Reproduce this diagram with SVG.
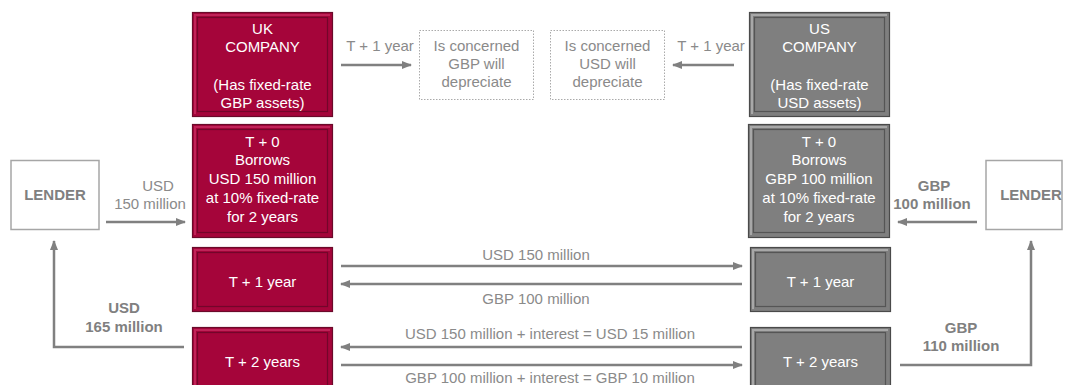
<svg xmlns="http://www.w3.org/2000/svg" width="1068" height="385" viewBox="0 0 1068 385">
<defs>
<style>
text{font-family:"Liberation Sans",Arial,sans-serif;font-size:15px;text-anchor:middle;dominant-baseline:central}
.w{fill:#ffffff}
.g{fill:#8a8a8a}
.gb{fill:#808080;font-weight:bold}
.uk-o{fill:#a5053a;stroke:#6a0a2a;stroke-width:1.2}
.uk-hl{fill:none;stroke:#c02358;stroke-width:2}
.uk-f{fill:#a5053a;stroke:#73062a;stroke-width:1.2}
.us-o{fill:#7f7f7f;stroke:#4a4a4a;stroke-width:1.2}
.us-hl{fill:none;stroke:#a8a8a8;stroke-width:2}
.us-f{fill:#7f7f7f;stroke:#555555;stroke-width:1.2}
.ln{stroke:#808080;stroke-width:2.5;fill:none}
.dot{fill:#fff;stroke:#aaaaaa;stroke-width:1;stroke-dasharray:1.5 1.5}
.lend{fill:#fff;stroke:#a6a6a6;stroke-width:1.5}
</style>
<marker id="ah" viewBox="0 0 10 10" refX="9" refY="5" markerWidth="4" markerHeight="4" orient="auto" markerUnits="strokeWidth">
<path d="M0,1 L10,5 L0,9 Z" fill="#808080"/>
</marker>
</defs>

<!-- UK boxes -->
<g id="uk-company">
<rect class="uk-o" x="192.5" y="12.5" width="140" height="104"/>
<path class="uk-hl" d="M195,114 V15 H330"/>
<rect class="uk-f" x="197.5" y="17.5" width="130" height="94"/>
<text class="w" x="262.5" y="28">UK</text>
<text class="w" x="262.5" y="46">COMPANY</text>
<text class="w" x="262.5" y="84">(Has fixed-rate</text>
<text class="w" x="262.5" y="102">GBP assets)</text>
</g>
<g id="uk-t0">
<rect class="uk-o" x="192.5" y="124.5" width="140" height="113"/>
<path class="uk-hl" d="M195,235 V127 H330"/>
<rect class="uk-f" x="197.5" y="129.5" width="130" height="103"/>
<text class="w" x="262.5" y="141">T + 0</text>
<text class="w" x="262.5" y="159">Borrows</text>
<text class="w" x="262.5" y="178">USD 150 million</text>
<text class="w" x="262.5" y="197">at 10% fixed-rate</text>
<text class="w" x="262.5" y="216">for 2 years</text>
</g>
<g id="uk-t1">
<rect class="uk-o" x="192.5" y="247.5" width="140" height="64"/>
<path class="uk-hl" d="M195,309 V250 H330"/>
<rect class="uk-f" x="197.5" y="252.5" width="130" height="54"/>
<text class="w" x="262.5" y="281">T + 1 year</text>
</g>
<g id="uk-t2">
<rect class="uk-o" x="192.5" y="327.5" width="140" height="64"/>
<path class="uk-hl" d="M195,389 V330 H330"/>
<rect class="uk-f" x="197.5" y="332.5" width="130" height="54"/>
<text class="w" x="262.5" y="361">T + 2 years</text>
</g>

<!-- US boxes -->
<g id="us-company">
<rect class="us-o" x="749.5" y="12.5" width="140" height="104"/>
<path class="us-hl" d="M752,114 V15 H887"/>
<rect class="us-f" x="754.5" y="17.5" width="130" height="94"/>
<text class="w" x="819.5" y="28">US</text>
<text class="w" x="819.5" y="46">COMPANY</text>
<text class="w" x="819.5" y="84">(Has fixed-rate</text>
<text class="w" x="819.5" y="102">USD assets)</text>
</g>
<g id="us-t0">
<rect class="us-o" x="748.5" y="124.5" width="141" height="113"/>
<path class="us-hl" d="M751,235 V127 H887"/>
<rect class="us-f" x="753.5" y="129.5" width="131" height="103"/>
<text class="w" x="819" y="141">T + 0</text>
<text class="w" x="819" y="159">Borrows</text>
<text class="w" x="819" y="178">GBP 100 million</text>
<text class="w" x="819" y="197">at 10% fixed-rate</text>
<text class="w" x="819" y="216">for 2 years</text>
</g>
<g id="us-t1">
<rect class="us-o" x="750.5" y="247.5" width="140" height="64"/>
<path class="us-hl" d="M753,309 V250 H888"/>
<rect class="us-f" x="755.5" y="252.5" width="130" height="54"/>
<text class="w" x="820.5" y="281">T + 1 year</text>
</g>
<g id="us-t2">
<rect class="us-o" x="750.5" y="327.5" width="140" height="64"/>
<path class="us-hl" d="M753,389 V330 H888"/>
<rect class="us-f" x="755.5" y="332.5" width="130" height="54"/>
<text class="w" x="820.5" y="361">T + 2 years</text>
</g>

<!-- concern boxes -->
<g id="concern-gbp">
<rect class="dot" x="419.5" y="30.5" width="114" height="69"/>
<text class="g" x="476.5" y="45">Is concerned</text>
<text class="g" x="476.5" y="63">GBP will</text>
<text class="g" x="476.5" y="81">depreciate</text>
</g>
<g id="concern-usd">
<rect class="dot" x="550.5" y="30.5" width="114" height="69"/>
<text class="g" x="607.5" y="45">Is concerned</text>
<text class="g" x="607.5" y="63">USD will</text>
<text class="g" x="607.5" y="81">depreciate</text>
</g>

<!-- lenders -->
<g id="lender-left">
<rect class="lend" x="11" y="160.5" width="88" height="69"/>
<text class="gb" x="55" y="194">LENDER</text>
</g>
<g id="lender-right">
<rect class="lend" x="986" y="160.5" width="76" height="69"/>
<text class="gb" x="1031" y="194">LENDER</text>
</g>

<!-- connectors -->
<g id="connectors">
<line class="ln" x1="341" y1="65" x2="411" y2="65" marker-end="url(#ah)"/>
<text class="g" x="380" y="45">T + 1 year</text>
<line class="ln" x1="734" y1="65" x2="673" y2="65" marker-end="url(#ah)"/>
<text class="g" x="711" y="45">T + 1 year</text>

<line class="ln" x1="106" y1="222" x2="185" y2="222" marker-end="url(#ah)"/>
<text class="g" x="158" y="185">USD</text>
<text class="g" x="150" y="203">150 million</text>

<line class="ln" x1="977" y1="222" x2="898" y2="222" marker-end="url(#ah)"/>
<text class="gb" x="934" y="185">GBP</text>
<text class="gb" x="932" y="203">100 million</text>

<line class="ln" x1="341" y1="266" x2="742" y2="266" marker-end="url(#ah)"/>
<text class="g" x="536" y="254">USD 150 million</text>
<line class="ln" x1="742" y1="284" x2="341" y2="284" marker-end="url(#ah)"/>
<text class="g" x="536" y="298">GBP 100 million</text>

<line class="ln" x1="742" y1="347" x2="341" y2="347" marker-end="url(#ah)"/>
<text class="g" x="550" y="333">USD 150 million + interest = USD 15 million</text>
<line class="ln" x1="341" y1="365" x2="742" y2="365" marker-end="url(#ah)"/>
<text class="g" x="550" y="377">GBP 100 million + interest = GBP 10 million</text>

<polyline class="ln" points="184,347 54,347 54,241" marker-end="url(#ah)"/>
<text class="gb" x="124" y="307">USD</text>
<text class="gb" x="124" y="326">165 million</text>

<polyline class="ln" points="900,365 1031,365 1031,241" marker-end="url(#ah)"/>
<text class="gb" x="961" y="327">GBP</text>
<text class="gb" x="961" y="345">110 million</text>
</g>
</svg>
